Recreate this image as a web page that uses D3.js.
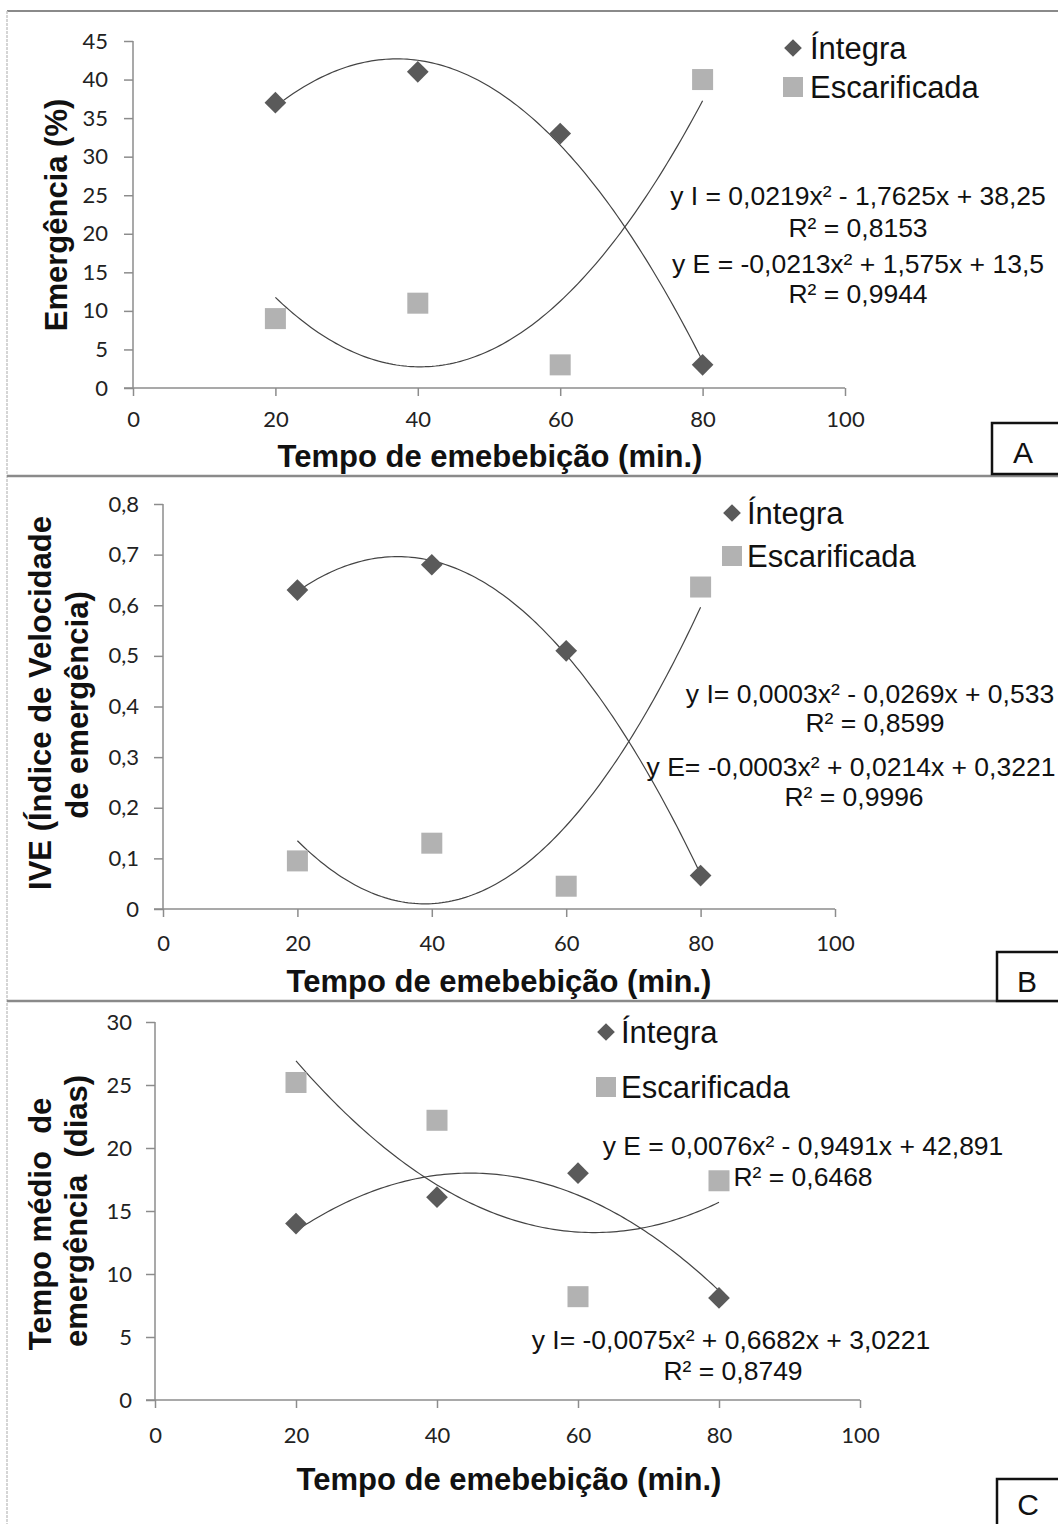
<!DOCTYPE html>
<html lang="pt">
<head>
<meta charset="utf-8">
<script src="https://d3js.org/d3.v7.min.js"></script>
<style>
  body { margin: 0; background: #fff; }
  svg { display: block; }
  .tick text { font-family: Lato, "Open Sans", sans-serif; font-size: 22px; fill: #222; }
  .axis path, .axis line { stroke: #8c8c8c; stroke-width: 1.5px; }
  .title { font-family: "Liberation Sans", Arial, sans-serif; font-weight: bold; font-size: 31px; fill: #111; }
  .legend { font-family: "Liberation Sans", Arial, sans-serif; font-size: 31px; fill: #111; }
  .eq { font-family: "Liberation Sans", Arial, sans-serif; font-size: 26.5px; fill: #111; }
  .tag { font-family: "Liberation Sans", Arial, sans-serif; font-size: 30px; fill: #111; }
</style>
</head>
<body>
<svg id="chart" width="1058" height="1524"></svg>
<script>
// tempo de embebição (min.)
const tempo = [20, 40, 60, 80];

// A - emergência (%)
const emergIntegra = [37, 41, 33, 3];
const emergEscarif = [9, 11, 3, 40];

// B - IVE
const iveIntegra = [0.63, 0.68, 0.51, 0.066];
const iveEscarif = [0.095, 0.13, 0.045, 0.636];

// C - tempo médio de emergência (dias)
const tmeIntegra = [14, 16.1, 18, 8.1];
const tmeEscarif = [25.2, 22.2, 8.2, 17.4];

const xTicks = [0, 20, 40, 60, 80, 100];
const yTicksA = [0, 5, 10, 15, 20, 25, 30, 35, 40, 45];
const yTicksB = [0, 0.1, 0.2, 0.3, 0.4, 0.5, 0.6, 0.7, 0.8];
const yTicksC = [0, 5, 10, 15, 20, 25, 30];

const eqA = ['y I = 0,0219x² - 1,7625x + 38,25', 'R² = 0,8153', 'y E = -0,0213x² + 1,575x + 13,5', 'R² = 0,9944'];
const eqB = ['y I= 0,0003x² - 0,0269x + 0,533', 'R² = 0,8599', 'y E= -0,0003x² + 0,0214x + 0,3221', 'R² = 0,9996'];
const eqC = ['y E = 0,0076x² - 0,9491x + 42,891', 'R² = 0,6468', 'y I= -0,0075x² + 0,6682x + 3,0221', 'R² = 0,8749'];

const svg = d3.select('#chart');

// least squares quadratic (Excel polynomial trendline, order 2)
function quadFit(xs, ys) {
  let s = [0, 0, 0, 0, 0], t = [0, 0, 0];
  xs.forEach((x, i) => {
    for (let k = 0; k < 5; k++) s[k] += Math.pow(x, k);
    for (let k = 0; k < 3; k++) t[k] += ys[i] * Math.pow(x, k);
  });
  const M = [[s[0], s[1], s[2], t[0]], [s[1], s[2], s[3], t[1]], [s[2], s[3], s[4], t[2]]];
  for (let c = 0; c < 3; c++) {
    for (let r = c + 1; r < 3; r++) {
      const f = M[r][c] / M[c][c];
      for (let k = c; k < 4; k++) M[r][k] -= f * M[c][k];
    }
  }
  const b = [0, 0, 0];
  for (let r = 2; r >= 0; r--) {
    let v = M[r][3];
    for (let k = r + 1; k < 3; k++) v -= M[r][k] * b[k];
    b[r] = v / M[r][r];
  }
  return x => b[0] + b[1] * x + b[2] * x * x;
}

// frame
svg.append('rect').attr('x', 0).attr('y', 0).attr('width', 1058).attr('height', 1524).attr('fill', '#fff');
svg.append('line').attr('x1', 7).attr('x2', 1058).attr('y1', 11).attr('y2', 11).attr('stroke', '#8a8a8a').attr('stroke-width', 2);
svg.append('line').attr('x1', 7).attr('x2', 7).attr('y1', 11).attr('y2', 1524).attr('stroke', '#c8c8c8').attr('stroke-width', 1.5).attr('stroke-dasharray', '3,1');
[476, 1001].forEach(y => svg.append('line').attr('x1', 7).attr('x2', 1058).attr('y1', y).attr('y2', y).attr('stroke', '#8a8a8a').attr('stroke-width', 2.5));

const commaFmt = d => d === 0 ? '0' : d3.format('.1f')(d).replace('.', ',');

const panels = [
  { x0: 133, x1: 845, y0: 388, y1: 41, ymax: 45, yTicks: yTicksA, fmt: d => d, labelX: 108,
    integra: emergIntegra, escarif: emergEscarif, xTickY: 421, xTitle: [490, 467],
    yTitle: [{ t: 'Emergência (%)', x: 67, y: 215 }],
    legend: { x: 793, yI: 48, yE: 87, tx: 810 },
    eqs: eqA, eqPos: [[858, 195], [858, 227], [858, 263], [858, 293]],
    tag: { t: 'A', x: 992, y: 423, h: 51, tx: 1023, ty: 463 } },
  { x0: 163, x1: 835, y0: 909, y1: 504, ymax: 0.8, yTicks: yTicksB, fmt: commaFmt, labelX: 139,
    integra: iveIntegra, escarif: iveEscarif, xTickY: 945, xTitle: [499, 992],
    yTitle: [{ t: 'IVE (Índice de Velocidade', x: 51, y: 703 }, { t: 'de emergência)', x: 88, y: 705 }],
    legend: { x: 732, yI: 513, yE: 556, tx: 747 },
    eqs: eqB, eqPos: [[870, 693], [875, 722], [851, 766], [854, 796]],
    tag: { t: 'B', x: 997, y: 952, h: 49, tx: 1027, ty: 992 } },
  { x0: 155, x1: 860, y0: 1400, y1: 1022, ymax: 30, yTicks: yTicksC, fmt: d => d, labelX: 132,
    integra: tmeIntegra, escarif: tmeEscarif, xTickY: 1437, xTitle: [509, 1490],
    yTitle: [{ t: 'Tempo médio  de', x: 51, y: 1224 }, { t: 'emergência  (dias)', x: 87, y: 1211 }],
    legend: { x: 606, yI: 1032, yE: 1087, tx: 621 },
    eqs: eqC, eqPos: [[803, 1145], [803, 1176], [731, 1339], [733, 1370]],
    tag: { t: 'C', x: 997, y: 1479, h: 60, tx: 1028, ty: 1515 } }
];

const diamond = d3.symbol().type(d3.symbolDiamond2).size(300);

panels.forEach(p => {
  const x = d3.scaleLinear().domain([0, 100]).range([p.x0, p.x1]);
  const y = d3.scaleLinear().domain([0, p.ymax]).range([p.y0, p.y1]);
  const g = svg.append('g');

  const ya = g.append('g').attr('class', 'axis').attr('transform', `translate(${p.x0},0)`)
    .call(d3.axisLeft(y).tickValues(p.yTicks).tickFormat(p.fmt).tickSize(9).tickPadding(p.x0 - 9 - p.labelX));
  ya.select('.domain').attr('d', `M0,${p.y0}V${p.y1}`);

  const xa = g.append('g').attr('class', 'axis').attr('transform', `translate(0,${p.y0})`)
    .call(d3.axisBottom(x).tickValues(xTicks).tickSize(8).tickPadding(p.xTickY - p.y0 - 18));
  xa.select('.domain').attr('d', `M${p.x0 - 9},0H${p.x1}`);

  // axis titles
  g.append('text').attr('class', 'title').attr('x', p.xTitle[0]).attr('y', p.xTitle[1])
    .attr('text-anchor', 'middle').text('Tempo de emebebição (min.)');
  p.yTitle.forEach(t => {
    g.append('text').attr('class', 'title').attr('text-anchor', 'middle')
      .attr('transform', `translate(${t.x},${t.y}) rotate(-90)`).style('white-space', 'pre').text(t.t);
  });

  // trend lines
  const xs = d3.range(20, 80.5, 0.5);
  [p.integra, p.escarif].forEach(vals => {
    const f = quadFit(tempo, vals);
    g.append('path').datum(xs)
      .attr('d', d3.line().x(d => x(d)).y(d => y(f(d))))
      .attr('fill', 'none').attr('stroke', '#444').attr('stroke-width', 1.2);
  });

  // points
  g.selectAll('.sq').data(tempo).join('rect').attr('class', 'sq')
    .attr('x', d => x(d) - 10.5).attr('y', (d, i) => y(p.escarif[i]) - 10.5)
    .attr('width', 21).attr('height', 21).attr('fill', '#b2b2b2');
  g.selectAll('.dm').data(tempo).join('path').attr('class', 'dm')
    .attr('d', diamond)
    .attr('transform', (d, i) => `translate(${x(d)},${y(p.integra[i])})`)
    .attr('fill', '#5a5a5a');

  // legend
  const L = p.legend;
  g.append('path').attr('d', d3.symbol().type(d3.symbolDiamond2).size(200)).attr('transform', `translate(${L.x},${L.yI})`).attr('fill', '#5a5a5a');
  g.append('text').attr('class', 'legend').attr('x', L.tx).attr('y', L.yI + 11).text('Íntegra');
  g.append('rect').attr('x', L.x - 10).attr('y', L.yE - 10).attr('width', 20).attr('height', 20).attr('fill', '#b2b2b2');
  g.append('text').attr('class', 'legend').attr('x', L.tx).attr('y', L.yE + 11).text('Escarificada');

  // equations
  p.eqs.forEach((t, i) => {
    g.append('text').attr('class', 'eq').attr('text-anchor', 'middle')
      .attr('x', p.eqPos[i][0]).attr('y', p.eqPos[i][1] + 9.5).text(t);
  });

  // panel tag
  const T = p.tag;
  g.append('rect').attr('x', T.x).attr('y', T.y).attr('width', 80).attr('height', T.h)
    .attr('fill', '#fff').attr('stroke', '#111').attr('stroke-width', 2.5);
  g.append('text').attr('class', 'tag').attr('x', T.tx).attr('y', T.ty).attr('text-anchor', 'middle').text(T.t);
});
</script>
</body>
</html>
